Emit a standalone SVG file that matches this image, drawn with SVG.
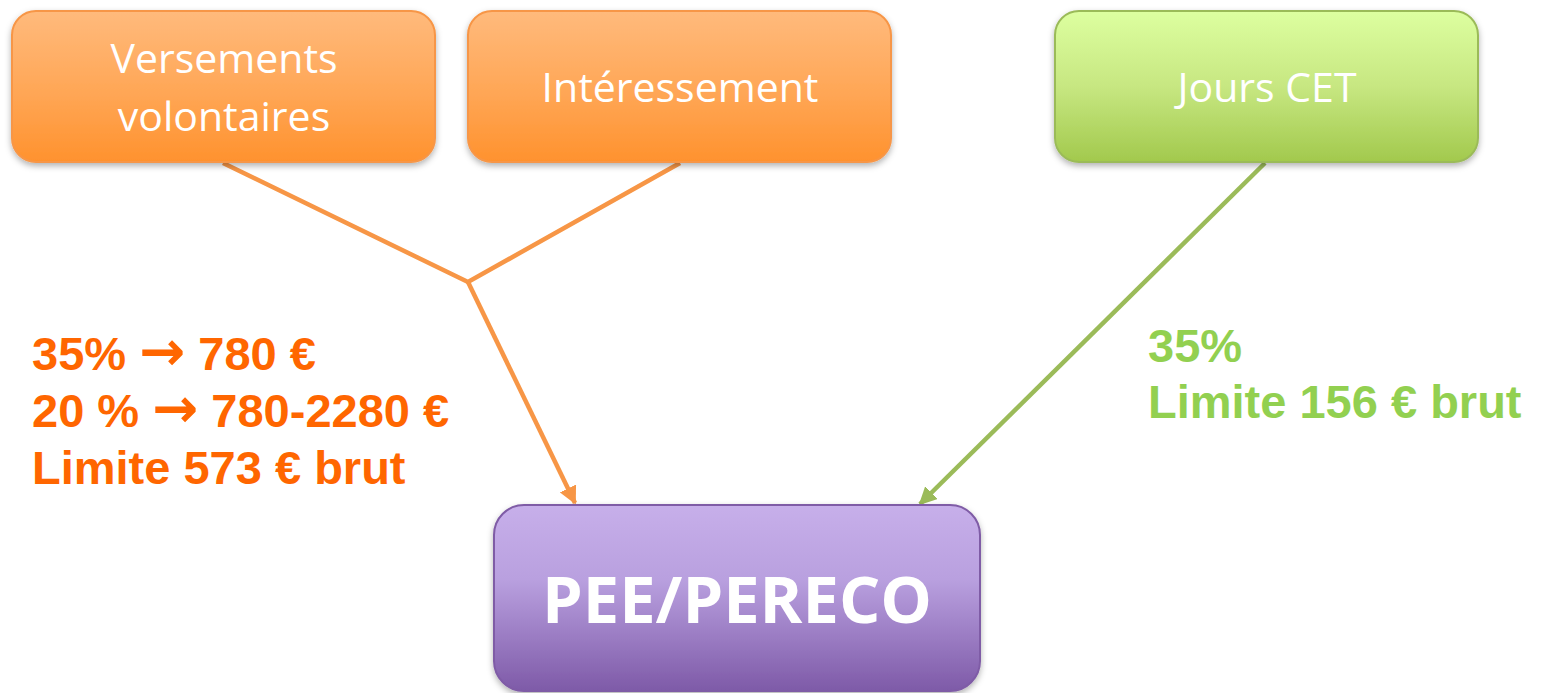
<svg xmlns="http://www.w3.org/2000/svg" width="1541" height="693" viewBox="0 0 1541 693">
<defs>
<linearGradient id="gOrange" x1="0" y1="0" x2="0" y2="1">
<stop offset="0" stop-color="#FFBA7C"/><stop offset="0.55" stop-color="#FFA655"/><stop offset="1" stop-color="#FF922E"/>
</linearGradient>
<linearGradient id="gGreen" x1="0" y1="0" x2="0" y2="1">
<stop offset="0" stop-color="#DDFFA0"/><stop offset="0.5" stop-color="#C7E781"/><stop offset="1" stop-color="#A2C94D"/>
</linearGradient>
<linearGradient id="gPurple" x1="0" y1="0" x2="0" y2="1">
<stop offset="0" stop-color="#C7AFEA"/><stop offset="0.4" stop-color="#B9A0DF"/><stop offset="1" stop-color="#7E5AA8"/>
</linearGradient>
<filter id="shadow" x="-10%" y="-10%" width="120%" height="130%">
<feDropShadow dx="0" dy="3" stdDeviation="3" flood-color="#000" flood-opacity="0.3"/>
</filter>
<marker id="arrOrange" viewBox="0 0 10 10" refX="9" refY="5" markerWidth="4" markerHeight="4" orient="auto" markerUnits="strokeWidth">
<path d="M0,0 L10,5 L0,10 z" fill="#F79646"/>
</marker>
<marker id="arrGreen" viewBox="0 0 10 10" refX="9" refY="5" markerWidth="4" markerHeight="4" orient="auto" markerUnits="strokeWidth">
<path d="M0,0 L10,5 L0,10 z" fill="#9BBB59"/>
</marker>
</defs>
<style>
.node-label{font-family:"Open Sans","Noto Sans",sans-serif;fill:#fff;text-anchor:middle}
.orange-t{font-family:"Liberation Sans",Arial,sans-serif;font-weight:bold;font-size:47px;fill:#FF6600}
.green-t{font-family:"Liberation Sans",Arial,sans-serif;font-weight:bold;font-size:47px;fill:#92D050}
.arw{font-family:"DejaVu Sans",sans-serif;font-weight:bold;font-size:55px}
.conn-o{stroke:#F79646;stroke-width:4.5;fill:none}
.conn-g{stroke:#9BBB59;stroke-width:4.5;fill:none}
</style>
<rect width="1541" height="693" fill="#fff"/>
<g id="connectors">
<polyline class="conn-o" points="223,163 468,282 680,163"/>
<line class="conn-o" x1="468" y1="282" x2="575" y2="503" marker-end="url(#arrOrange)"/>
<line class="conn-g" x1="1265" y1="163" x2="920" y2="504" marker-end="url(#arrGreen)"/>
</g>
<g id="node-versements">
<rect x="12" y="11" width="423" height="151" rx="24" fill="url(#gOrange)" stroke="#F79646" stroke-width="2" filter="url(#shadow)"/>
<text class="node-label" x="224" y="73" font-size="41">Versements</text>
<text class="node-label" x="224" y="131" font-size="41">volontaires</text>
</g>
<g id="node-interessement">
<rect x="468" y="11" width="423" height="151" rx="24" fill="url(#gOrange)" stroke="#F79646" stroke-width="2" filter="url(#shadow)"/>
<text class="node-label" x="680" y="102" font-size="41">Intéressement</text>
</g>
<g id="node-cet">
<rect x="1055" y="11" width="423" height="151" rx="24" fill="url(#gGreen)" stroke="#9BBB59" stroke-width="2" filter="url(#shadow)"/>
<text class="node-label" x="1267" y="102" font-size="41">Jours CET</text>
</g>
<g id="node-pee">
<rect x="494" y="505" width="486" height="186" rx="30" fill="url(#gPurple)" stroke="#7F5BA6" stroke-width="2" filter="url(#shadow)"/>
<text class="node-label" x="737" y="623" font-size="65" font-weight="bold">PEE/PERECO</text>
</g>
<g id="label-orange">
<text class="orange-t" x="32" y="370">35% <tspan class="arw">→</tspan> 780 €</text>
<text class="orange-t" x="32" y="427">20 % <tspan class="arw">→</tspan> 780-2280 €</text>
<text class="orange-t" x="32" y="484">Limite 573 € brut</text>
</g>
<g id="label-green">
<text class="green-t" x="1148" y="362">35%</text>
<text class="green-t" x="1148" y="418">Limite 156 € brut</text>
</g>
</svg>
